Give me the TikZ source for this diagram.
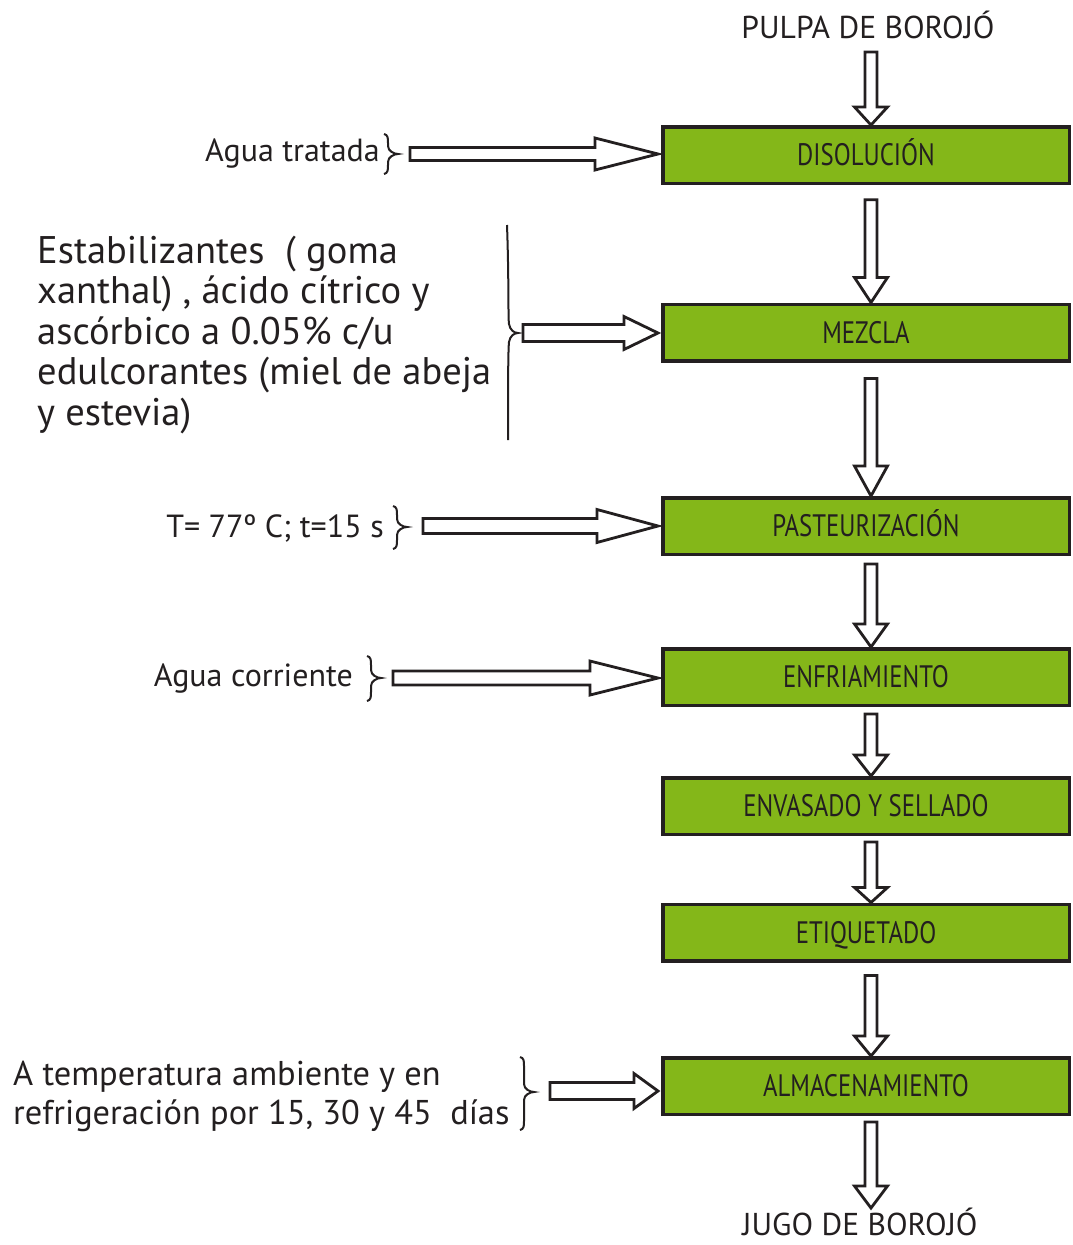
\documentclass[tikz,border=0pt]{standalone}
\usepackage{fontspec}
\setmainfont{PT Sans}
\newfontfamily\condensed[FakeStretch=0.80]{PT Sans}
\usetikzlibrary{calc}
\definecolor{ink}{HTML}{231F20}
\definecolor{leaf}{HTML}{84B719}

% side brace opening to the left: stroke x, cusp x, top y, cusp y, bottom y
\newcommand\sidebrace[5]{%
  \draw[bracestyle] (#1-4,#3) .. controls (#1,#3+1) and (#1,#3+4) .. (#1,#3+9)
    -- (#1,#4-8) .. controls (#1,#4-3) and (#2-4,#4) .. (#2,#4)
    .. controls (#2-4,#4) and (#1,#4+3) .. (#1,#4+8)
    -- (#1,#5-9) .. controls (#1,#5-4) and (#1,#5-1) .. (#1-4,#5);}

\begin{document}
\begin{tikzpicture}[x=1pt,y=-1pt,
  headlen/.store in=\ahl, shaftw/.store in=\asw, headw/.store in=\ahw,
  headlen=20, shaftw=6, headw=16.5,
  stage/.style={draw=ink, fill=leaf, line width=3.5pt,
    minimum width=406.5pt, minimum height=56.5pt, inner sep=0pt,
    text height=21.7pt, text depth=0pt, text=ink,
    font=\condensed\fontsize{31}{31}\selectfont},
  ends/.style={inner sep=0pt, text=ink, font=\fontsize{31.6}{31.6}\selectfont},
  note/.style={inner sep=0pt, text=ink, font=\fontsize{32}{32}\selectfont},
  bignote/.style={inner sep=0pt, text=ink, font=\fontsize{38.5}{40.5}\selectfont},
  midnote/.style={inner sep=0pt, text=ink, font=\fontsize{34.4}{39}\selectfont},
  bracestyle/.style={draw=ink, line width=2pt},
  block/.style={draw=ink, fill=white, line width=2.8pt, line join=miter},
  downblock/.style={block,
    to path={let \p1=(\tikztostart), \p2=(\tikztotarget) in
      (\x1-\asw pt,\y1) -- (\x1-\asw pt,\y2+\ahl pt) -- (\x1-\ahw pt,\y2+\ahl pt)
      -- (\x1,\y2) -- (\x1+\ahw pt,\y2+\ahl pt) -- (\x1+\asw pt,\y2+\ahl pt)
      -- (\x1+\asw pt,\y1) -- cycle}},
  rightblock/.style={block,
    to path={let \p1=(\tikztostart), \p2=(\tikztotarget) in
      (\x1,\y1+\asw pt) -- (\x2-\ahl pt,\y1+\asw pt) -- (\x2-\ahl pt,\y1+\ahw pt)
      -- (\x2,\y1) -- (\x2-\ahl pt,\y1-\ahw pt) -- (\x2-\ahl pt,\y1-\asw pt)
      -- (\x1,\y1-\asw pt) -- cycle}},
]
\useasboundingbox (0,0) rectangle (1073,1245);

% process stages
\node[stage] (dis) at (866,155)   {DISOLUCIÓN};
\node[stage] (mez) at (866,332.5) {MEZCLA};
\node[stage] (pas) at (866,526)   {PASTEURIZACIÓN};
\node[stage] (enf) at (866,677)   {ENFRIAMIENTO};
\node[stage] (env) at (866,806)   {ENVASADO Y SELLADO};
\node[stage] (eti) at (866,932.5) {ETIQUETADO};
\node[stage] (alm) at (866,1086)  {ALMACENAMIENTO};

% raw material and product
\node[ends, anchor=base] (pulpa) at (868,38)   {PULPA DE BOROJÓ};
\node[ends, anchor=base] (jugo)  at (860,1235) {JUGO DE BOROJÓ};
\coordinate (in0)  at (871,52);
\coordinate (out0) at (871,1208);

% main flow
\draw[downblock, headlen=18] (in0) to (dis.north);
\draw[downblock, headlen=25] ([shift={(5pt,-14.75pt)}]dis.south) to (mez.north);
\draw[downblock, headlen=30] ([shift={(5pt,-16pt)}]mez.south) to (pas.north);
\draw[downblock, headlen=23] ([shift={(5pt,-8pt)}]pas.south) to (enf.north);
\draw[downblock, headlen=21] ([shift={(5pt,-7pt)}]enf.south) to (env.north);
\draw[downblock, headlen=15] ([shift={(5pt,-6pt)}]env.south) to (eti.north);
\draw[downblock, headlen=20] ([shift={(5pt,-13pt)}]eti.south) to (alm.north);
\draw[downblock, headlen=22] ([shift={(5pt,-6pt)}]alm.south) to (out0);

% inputs and conditions
\node[note, anchor=base east] (agua1) at (380,161) {Agua tratada};
\node[bignote, anchor=base west] (aditivos) at (37,263) {\begin{tabular}[t]{@{}l@{}}%
  Estabilizantes\ \ ( goma\\
  xanthal) , ácido cítrico y\\
  ascórbico a 0.05\% c/u\\
  edulcorantes (miel de abeja\\
  y estevia)\end{tabular}};
\node[note, anchor=base east] (cond) at (384,537) {T= 77º C; t=15 s};
\node[note, anchor=base east] (agua2) at (353,686) {Agua corriente};
\node[midnote, anchor=base west] (tiempo) at (13,1085) {\begin{tabular}[t]{@{}l@{}}%
  A temperatura ambiente y en\\
  refrigeración por 15, 30 y 45\ \ días\end{tabular}};

% braces
\sidebrace{388}{398}{134}{154}{174}
\draw[bracestyle] (507,225) .. controls (509,280) and (508,318) .. (509,324)
  .. controls (510,330) and (514,333) .. (518,333)
  .. controls (514,333) and (510,336) .. (509,342)
  .. controls (508,350) and (508,400) .. (508,440);
\sidebrace{397}{407}{506}{527}{549}
\sidebrace{371}{381}{656}{678}{701}
\sidebrace{524}{534}{1057}{1092}{1130}

% side inputs
\coordinate (s1) at (410,154);
\coordinate (s2) at (523,333);
\coordinate (s3) at (423,526);
\coordinate (s4) at (393,678);
\coordinate (s5) at (550,1091);
\draw[rightblock, shaftw=6.5, headw=16,   headlen=63] (s1) to ([xshift=-3pt]dis.west);
\draw[rightblock, shaftw=8.5, headw=16.5, headlen=34] (s2) to ([xshift=-3pt]mez.west);
\draw[rightblock, shaftw=7.5, headw=16.5, headlen=61] (s3) to ([xshift=-3pt]pas.west);
\draw[rightblock, shaftw=7,   headw=17,   headlen=68] (s4) to ([xshift=-3pt]enf.west);
\draw[rightblock, shaftw=8.5, headw=17.5, headlen=24] (s5) to ([xshift=-3pt]alm.west);
\end{tikzpicture}
\end{document}
